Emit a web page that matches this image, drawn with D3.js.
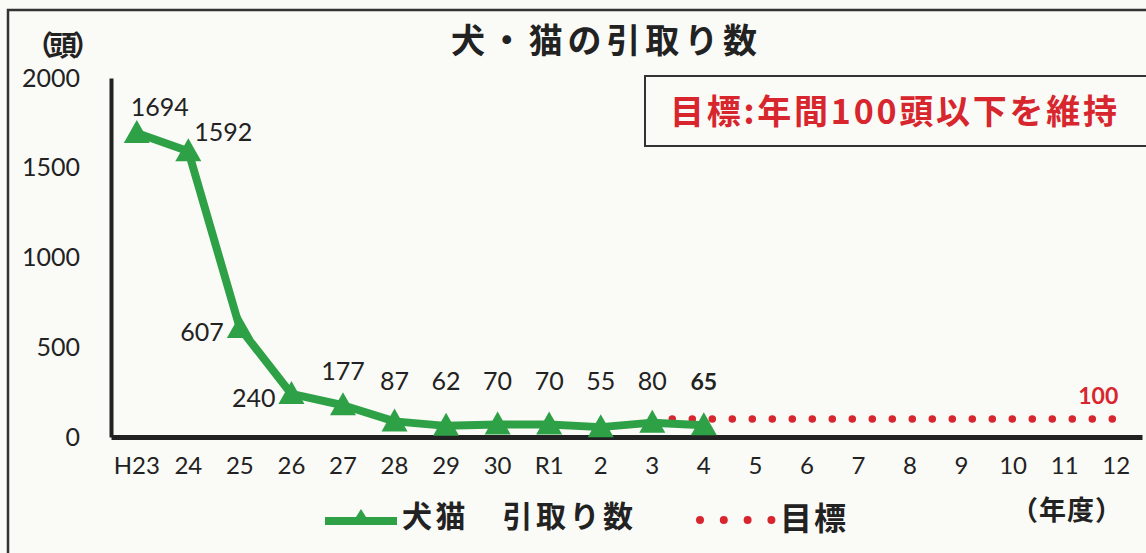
<!DOCTYPE html>
<html><head><meta charset="utf-8">
<script src="https://cdn.jsdelivr.net/npm/d3@7"></script>
<style>
html,body{margin:0;padding:0;background:#fafaf6;}
svg{display:block;}
</style></head>
<body>
<svg id="chart" width="1146" height="553"></svg>
<script>
// ---- data ----
const categories = ["H23","24","25","26","27","28","29","30","R1","2","3","4","5","6","7","8","9","10","11","12"];
const intake = [1694,1592,607,240,177,87,62,70,70,55,80,65];
const target = [null,null,null,null,null,null,null,null,null,null,100,100,100,100,100,100,100,100,100,100];
const yTicks = [0,500,1000,1500,2000];
const labelPlacement = ["aboveRight","right","left","left","above","above","above","above","above","above","above","aboveBold"];
const titleText = "犬・猫の引取り数";
const goalText = "目標:年間100頭以下を維持";
const unitY = "（頭）";
const unitX = "（年度）";
const legendNames = ["犬猫　引取り数","目標"];

const GREEN = "#2ea046", RED = "#d7262e", INK = "#222";
const NUMF = "Lato, 'Open Sans', sans-serif";
const JPF = "'Noto Sans CJK JP', 'Noto Sans', sans-serif";

const svg = d3.select("#chart");

// frame
svg.append("path").attr("d","M8,553V10H1146").attr("fill","none").attr("stroke","#333").attr("stroke-width",2.5);

const x = d3.scaleBand().domain(categories).range([111,1142]);
const y = d3.scaleLinear().domain([0,2000]).range([437,78]);
const cx = c => x(c) + x.bandwidth()/2;

// y axis
const ya = svg.append("g").attr("transform","translate(111,0)")
  .call(d3.axisLeft(y).tickValues(yTicks).tickFormat(d3.format("d")).tickSize(0).tickSizeOuter(0).tickPadding(31));
ya.select(".domain").attr("stroke","#222").attr("stroke-width",4);
ya.selectAll("text").attr("font-family",NUMF).attr("font-size",25).attr("fill",INK);

// x axis
const xa = svg.append("g").attr("transform","translate(0,437)")
  .call(d3.axisBottom(x).tickSize(0).tickSizeOuter(0).tickPadding(20));
xa.select(".domain").attr("stroke","#222").attr("stroke-width",5);
xa.selectAll("text").attr("font-family",NUMF).attr("font-size",24).attr("fill",INK);

// target dotted line
const tData = categories.map((c,i)=>({c,v:target[i]}));
svg.append("path").datum(tData)
  .attr("d", d3.line().defined(d=>d.v!=null).x(d=>cx(d.c)).y(d=>y(d.v)))
  .attr("fill","none").attr("stroke",RED).attr("stroke-width",7.5)
  .attr("stroke-linecap","round").attr("stroke-dasharray","0 20");

// intake line
const iData = intake.map((v,i)=>({c:categories[i],v}));
svg.append("path").datum(iData)
  .attr("d", d3.line().x(d=>cx(d.c)).y(d=>y(d.v)))
  .attr("fill","none").attr("stroke",GREEN).attr("stroke-width",8).attr("stroke-linejoin","round");

const tri = "M0,-14L13,9L-13,9Z";
svg.selectAll("path.tri").data(iData).join("path").attr("class","tri")
  .attr("d",tri).attr("transform",d=>`translate(${cx(d.c)},${y(d.v)+1})`).attr("fill",GREEN);

// data labels
svg.selectAll("text.lbl").data(iData).join("text").attr("class","lbl")
  .each(function(d,i){
    const p = labelPlacement[i], px = cx(d.c), py = y(d.v);
    const t = d3.select(this).text(d.v).attr("font-family",NUMF).attr("font-size",25).attr("fill",INK);
    if (p==="aboveRight") t.attr("x",px-6).attr("y",py-17).attr("text-anchor","start");
    else if (p==="right") t.attr("x",px+6).attr("y",py-10).attr("text-anchor","start");
    else if (p==="left") t.attr("x",px-16).attr("y",py+13).attr("text-anchor","end");
    else {
      t.attr("x",px).attr("y",Math.min(py-25,390)).attr("text-anchor","middle");
      if (p==="aboveBold") t.attr("font-weight","bold").attr("font-size",23);
    }
  });

// target value label
svg.append("text").text(target[target.length-1]).attr("x",cx(categories[categories.length-1])-18).attr("y",404)
  .attr("text-anchor","middle").attr("font-family",NUMF).attr("font-weight","bold").attr("font-size",23).attr("fill",RED);

// title
svg.append("text").text(titleText).attr("x",604).attr("y",38).attr("text-anchor","middle")
  .attr("dominant-baseline","central").attr("font-family",JPF).attr("font-weight","bold")
  .attr("font-size",34).attr("fill",INK).attr("textLength",306).attr("lengthAdjust","spacing");

// unit y
svg.append("text").text(unitY).attr("x",61).attr("y",44).attr("text-anchor","middle")
  .attr("dominant-baseline","central").attr("font-family",JPF).attr("font-weight","bold")
  .attr("font-size",28).attr("letter-spacing",-4).attr("fill",INK);

// goal box
svg.append("path").attr("d","M1146,76H645V146H1146").attr("fill","none").attr("stroke","#333").attr("stroke-width",2);
svg.append("text").text(goalText).attr("x",670).attr("y",109).attr("dominant-baseline","central")
  .attr("font-family",JPF).attr("font-weight","bold").attr("font-size",34).attr("fill",RED)
  .attr("textLength",447).attr("lengthAdjust","spacing");

// legend
const lg = svg.append("g");
lg.append("line").attr("x1",325).attr("x2",397).attr("y1",521).attr("y2",521).attr("stroke",GREEN).attr("stroke-width",8);
lg.append("path").attr("d","M0,-10L10,6L-10,6Z").attr("transform","translate(361,519)").attr("fill",GREEN);
lg.append("text").text(legendNames[0]).attr("x",402).attr("y",514).attr("dominant-baseline","central")
  .attr("font-family",JPF).attr("font-weight","bold").attr("font-size",30).attr("fill",INK)
  .attr("textLength",231).attr("lengthAdjust","spacing");
lg.append("line").attr("x1",700).attr("x2",772).attr("y1",520).attr("y2",520).attr("stroke",RED)
  .attr("stroke-width",8).attr("stroke-linecap","round").attr("stroke-dasharray","0 23.8");
lg.append("text").text(legendNames[1]).attr("x",780).attr("y",516).attr("dominant-baseline","central")
  .attr("font-family",JPF).attr("font-weight","bold").attr("font-size",32).attr("fill",INK)
  .attr("textLength",66).attr("lengthAdjust","spacing");

// unit x
svg.append("text").text(unitX).attr("x",1067).attr("y",508).attr("text-anchor","middle")
  .attr("dominant-baseline","central").attr("font-family",JPF).attr("font-weight","bold")
  .attr("font-size",27).attr("letter-spacing",1).attr("fill",INK);
</script>
</body></html>
